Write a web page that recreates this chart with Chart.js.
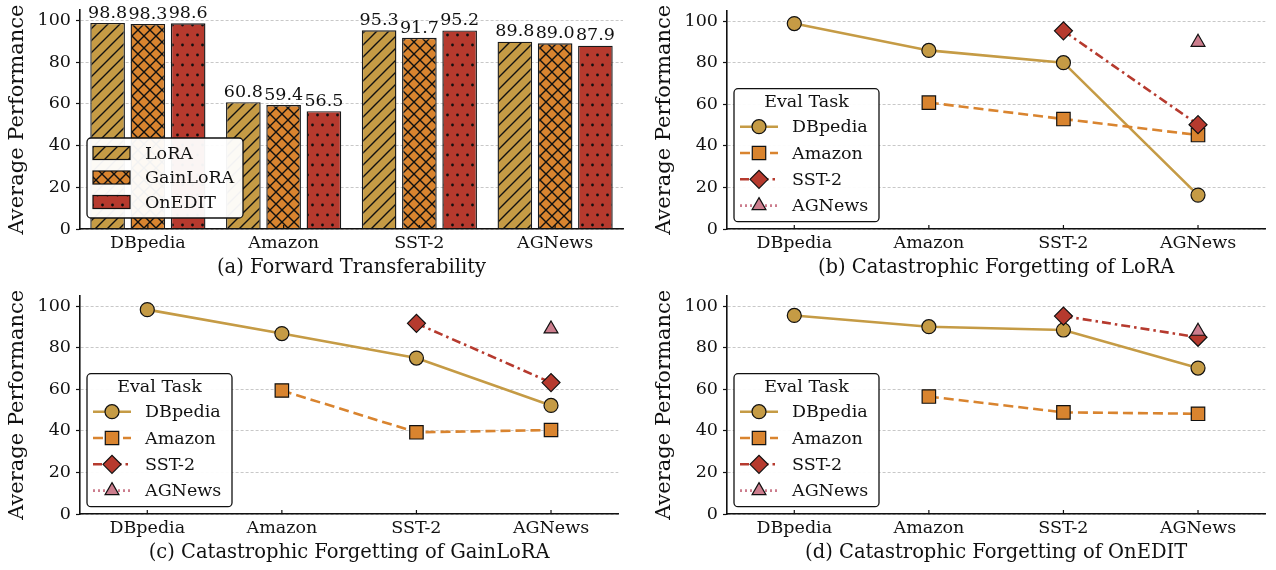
<!DOCTYPE html>
<html>
<head>
<meta charset="utf-8">
<script src="https://cdn.jsdelivr.net/npm/chart.js@4.4.1/dist/chart.umd.min.js"></script>
<style>
  body { margin: 0; background: #fff; width: 1276px; height: 570px; position: relative; overflow: hidden; }
  canvas { position: absolute; }
</style>
</head>
<body>
<canvas id="chartA" width="629" height="285" style="left:0;top:0"></canvas>
<canvas id="chartB" width="629" height="285" style="left:647px;top:0"></canvas>
<canvas id="chartC" width="629" height="285" style="left:0;top:285px"></canvas>
<canvas id="chartD" width="629" height="285" style="left:647px;top:285px"></canvas>
<script>
// ---- data ----
var categories = ['DBpedia', 'Amazon', 'SST-2', 'AGNews'];
var yTicks = [0, 20, 40, 60, 80, 100];

// (a) forward transferability
var fwdLoRA = [98.8, 60.8, 95.3, 89.8];
var fwdGainLoRA = [98.3, 59.4, 91.7, 89.0];
var fwdOnEDIT = [98.6, 56.5, 95.2, 87.9];

// (b) forgetting of LoRA
var loraDBpedia = [98.8, 85.9, 80.0, 16.3];
var loraAmazon = [null, 60.8, 52.9, 45.2];
var loraSST2 = [null, null, 95.3, 50.2];
var loraAGNews = [null, null, null, 89.8];

// (c) forgetting of GainLoRA
var gainDBpedia = [98.3, 86.8, 75.0, 52.2];
var gainAmazon = [null, 59.4, 39.3, 40.4];
var gainSST2 = [null, null, 91.7, 63.2];
var gainAGNews = [null, null, null, 89.0];

// (d) forgetting of OnEDIT
var oneDBpedia = [95.5, 90.1, 88.5, 70.2];
var oneAmazon = [null, 56.5, 48.9, 48.2];
var oneSST2 = [null, null, 95.2, 85.0];
var oneAGNews = [null, null, null, 87.9];

// ---- styles ----
var SERIF = "'DejaVu Serif', 'Liberation Serif', serif";
var GOLD = '#C59B45';
var ORANGE = '#D9842F';
var RED = '#B63A2E';
var PINK = '#CC7D8D';
var INK = '#111';
var TICK_SIZE = 17.5;
var LEGEND_SIZE = 17.5;

Chart.defaults.font.family = SERIF;
Chart.defaults.color = INK;
Chart.defaults.animation = false;

function makePattern(color, kind) {
  var c = document.createElement('canvas');
  var s = 12;
  if (kind === 'dots') { c.width = 10; c.height = 20; } else { c.width = s; c.height = s; }
  var g = c.getContext('2d');
  g.fillStyle = color;
  g.fillRect(0, 0, c.width, c.height);
  g.strokeStyle = INK;
  g.fillStyle = INK;
  g.lineWidth = 1.4;
  if (kind === 'diag' || kind === 'cross') {
    g.beginPath();
    g.moveTo(-s, s); g.lineTo(s, -s);
    g.moveTo(0, s); g.lineTo(s, 0);
    g.moveTo(0, 2 * s); g.lineTo(2 * s, 0);
    g.stroke();
  }
  if (kind === 'cross') {
    g.beginPath();
    g.moveTo(-s, 0); g.lineTo(s, 2 * s);
    g.moveTo(0, 0); g.lineTo(s, s);
    g.moveTo(0, -s); g.lineTo(2 * s, s);
    g.stroke();
  }
  if (kind === 'dots') {
    g.beginPath(); g.arc(2.5, 5, 1.4, 0, Math.PI * 2); g.fill();
    g.beginPath(); g.arc(7.5, 15, 1.4, 0, Math.PI * 2); g.fill();
  }
  return g.createPattern(c, 'repeat');
}

function drawMarker(ctx, style, x, y, r, fill) {
  ctx.beginPath();
  if (style === 'circle') {
    ctx.arc(x, y, r, 0, Math.PI * 2);
  } else if (style === 'rect') {
    var h = r * Math.SQRT1_2;
    ctx.rect(x - h, y - h, 2 * h, 2 * h);
  } else if (style === 'rectRot') {
    ctx.moveTo(x - r, y); ctx.lineTo(x, y - r); ctx.lineTo(x + r, y); ctx.lineTo(x, y + r); ctx.closePath();
  } else if (style === 'triangle') {
    ctx.moveTo(x, y - r);
    ctx.lineTo(x + r * Math.sin(2 * Math.PI / 3), y - r * Math.cos(2 * Math.PI / 3));
    ctx.lineTo(x + r * Math.sin(4 * Math.PI / 3), y - r * Math.cos(4 * Math.PI / 3));
    ctx.closePath();
  }
  ctx.fillStyle = fill;
  ctx.fill();
  ctx.lineWidth = 1.2;
  ctx.strokeStyle = INK;
  ctx.setLineDash([]);
  ctx.stroke();
}

function yScale() {
  return {
    min: 0, max: 105,
    afterBuildTicks: function (s) { s.ticks = yTicks.map(function (v) { return { value: v }; }); },
    afterFit: function (s) { s.width = 80; s.paddingTop = 0; s.paddingBottom = 0; },
    ticks: { font: { size: TICK_SIZE }, color: INK, padding: 5 },
    grid: { color: '#c8c8c8', lineWidth: 1, tickColor: INK, tickLength: 4, tickWidth: 1.2, tickBorderDash: [] },
    border: { display: true, color: INK, width: 1.6, dash: [3, 2], z: 1 },
    title: { display: true, text: 'Average Performance', font: { size: 21 }, color: INK, padding: { top: 5, bottom: 0 } }
  };
}

function xScale(title) {
  return {
    type: 'category', offset: true,
    afterFit: function (s) { s.height = 56; s.paddingLeft = 0; s.paddingRight = 0; },
    grid: { display: false, drawTicks: false },
    border: { display: true, color: INK, width: 1.6, z: 1 },
    ticks: { font: { size: TICK_SIZE }, color: INK, padding: 4, maxRotation: 0, autoSkip: false },
    title: { display: true, text: title, font: { size: 19.5 }, color: INK, padding: { top: 0, bottom: 5 } }
  };
}

// small inward tick marks on the x axis
var innerTicks = {
  id: 'innerTicks',
  afterDraw: function (chart) {
    var ctx = chart.ctx, xs = chart.scales.x, b = chart.chartArea.bottom;
    ctx.save();
    ctx.strokeStyle = INK; ctx.lineWidth = 1.2;
    for (var i = 0; i < categories.length; i++) {
      var px = xs.getPixelForTick(i);
      ctx.beginPath(); ctx.moveTo(px, b); ctx.lineTo(px, b - 4); ctx.stroke();
    }
    ctx.restore();
  }
};

var barLabels = {
  id: 'barLabels',
  afterDatasetsDraw: function (chart) {
    if (chart.config.type !== 'bar') return;
    var ctx = chart.ctx;
    ctx.save();
    ctx.font = '17.5px ' + SERIF;
    ctx.fillStyle = INK;
    ctx.textAlign = 'center';
    ctx.textBaseline = 'bottom';
    chart.data.datasets.forEach(function (ds, i) {
      chart.getDatasetMeta(i).data.forEach(function (bar, j) {
        ctx.fillText(ds.data[j].toFixed(1), bar.x, bar.y - 1);
      });
    });
    ctx.restore();
  }
};

function roundRect(ctx, x, y, w, h, r) {
  ctx.beginPath();
  ctx.moveTo(x + r, y);
  ctx.arcTo(x + w, y, x + w, y + h, r);
  ctx.arcTo(x + w, y + h, x, y + h, r);
  ctx.arcTo(x, y + h, x, y, r);
  ctx.arcTo(x, y, x + w, y, r);
  ctx.closePath();
}

var boxLegend = {
  id: 'boxLegend',
  afterDraw: function (chart, args, opts) {
    var ctx = chart.ctx, ca = chart.chartArea;
    var x = ca.left + opts.x, y = ca.top + opts.y;
    ctx.save();
    roundRect(ctx, x, y, opts.w, opts.h, 4);
    ctx.fillStyle = 'rgba(255,255,255,0.95)';
    ctx.fill();
    ctx.lineWidth = 1.3; ctx.strokeStyle = INK; ctx.stroke();
    ctx.font = LEGEND_SIZE + 'px ' + SERIF;
    ctx.textBaseline = 'middle';
    var dsets = chart.data.datasets;
    if (opts.kind === 'bar') {
      dsets.forEach(function (ds, i) {
        var cy = y + 15 + i * 24.5;
        ctx.fillStyle = ds.backgroundColor;
        ctx.fillRect(x + 6, cy - 6.5, 37, 13);
        ctx.lineWidth = 1.2; ctx.strokeStyle = INK;
        ctx.strokeRect(x + 6, cy - 6.5, 37, 13);
        ctx.fillStyle = INK; ctx.textAlign = 'left';
        ctx.fillText(ds.label, x + 58, cy + 1);
      });
    } else {
      ctx.fillStyle = INK; ctx.textAlign = 'center';
      ctx.fillText(opts.title, x + opts.w / 2, y + 14);
      dsets.forEach(function (ds, i) {
        var cy = y + 38 + i * 26.3;
        ctx.beginPath();
        ctx.setLineDash(ds.borderDash || []);
        ctx.strokeStyle = ds.borderColor; ctx.lineWidth = ds.borderWidth;
        ctx.moveTo(x + 6, cy); ctx.lineTo(x + 44, cy); ctx.stroke();
        ctx.setLineDash([]);
        drawMarker(ctx, ds.pointStyle, x + 25, cy, ds.pointRadius, ds.pointBackgroundColor);
        ctx.fillStyle = INK; ctx.textAlign = 'left';
        ctx.fillText(ds.label, x + 58, cy + 1);
      });
    }
    ctx.restore();
  }
};

// ---- (a) bar chart ----
var patLoRA = makePattern(GOLD, 'diag');
var patGain = makePattern(ORANGE, 'cross');
var patOne = makePattern(RED, 'dots');

function barSet(label, data, pat) {
  return {
    label: label, data: data, backgroundColor: pat,
    borderColor: '#1a1a1a', borderWidth: 1.4,
    categoryPercentage: 0.89, barPercentage: 0.86
  };
}

new Chart(document.getElementById('chartA'), {
  type: 'bar',
  data: {
    labels: categories,
    datasets: [
      barSet('LoRA', fwdLoRA, patLoRA),
      barSet('GainLoRA', fwdGainLoRA, patGain),
      barSet('OnEDIT', fwdOnEDIT, patOne)
    ]
  },
  options: {
    responsive: false,
    layout: { padding: { top: 10, right: 6, left: 0, bottom: 0 } },
    scales: { x: xScale('(a) Forward Transferability'), y: yScale() },
    plugins: {
      legend: { display: false }, tooltip: { enabled: false },
      boxLegend: { kind: 'bar', x: 7, y: 128, w: 156, h: 80 }
    }
  },
  plugins: [barLabels, boxLegend, innerTicks]
});

// ---- (b)-(d) line charts ----
function lineSet(label, data, color, dash, style, radius, order) {
  return {
    label: label, data: data,
    borderColor: color, backgroundColor: color, borderWidth: 2.6, borderDash: dash,
    pointStyle: style, pointRadius: radius, pointBackgroundColor: color,
    pointBorderColor: INK, pointBorderWidth: 1.2, order: order
  };
}

function forgetChart(id, title, dDB, dAm, dSST, dAG) {
  new Chart(document.getElementById(id), {
    type: 'line',
    data: {
      labels: categories,
      datasets: [
        lineSet('DBpedia', dDB, GOLD, [], 'circle', 7, 3),
        lineSet('Amazon', dAm, ORANGE, [10, 5], 'rect', 9.5, 2),
        lineSet('SST-2', dSST, RED, [9, 4, 2.5, 4], 'rectRot', 9, 1),
        lineSet('AGNews', dAG, PINK, [2, 3], 'triangle', 8, 0)
      ]
    },
    options: {
      responsive: false,
      layout: { padding: { top: 10, right: 6, left: 0, bottom: 0 } },
      scales: { x: xScale(title), y: yScale() },
      plugins: {
        legend: { display: false }, tooltip: { enabled: false },
        boxLegend: { kind: 'line', title: 'Eval Task', x: 7, y: 78, w: 145, h: 133 }
      }
    },
    plugins: [boxLegend, innerTicks]
  });
}

forgetChart('chartB', '(b) Catastrophic Forgetting of LoRA', loraDBpedia, loraAmazon, loraSST2, loraAGNews);
forgetChart('chartC', '(c) Catastrophic Forgetting of GainLoRA', gainDBpedia, gainAmazon, gainSST2, gainAGNews);
forgetChart('chartD', '(d) Catastrophic Forgetting of OnEDIT', oneDBpedia, oneAmazon, oneSST2, oneAGNews);
</script>
</body>
</html>
